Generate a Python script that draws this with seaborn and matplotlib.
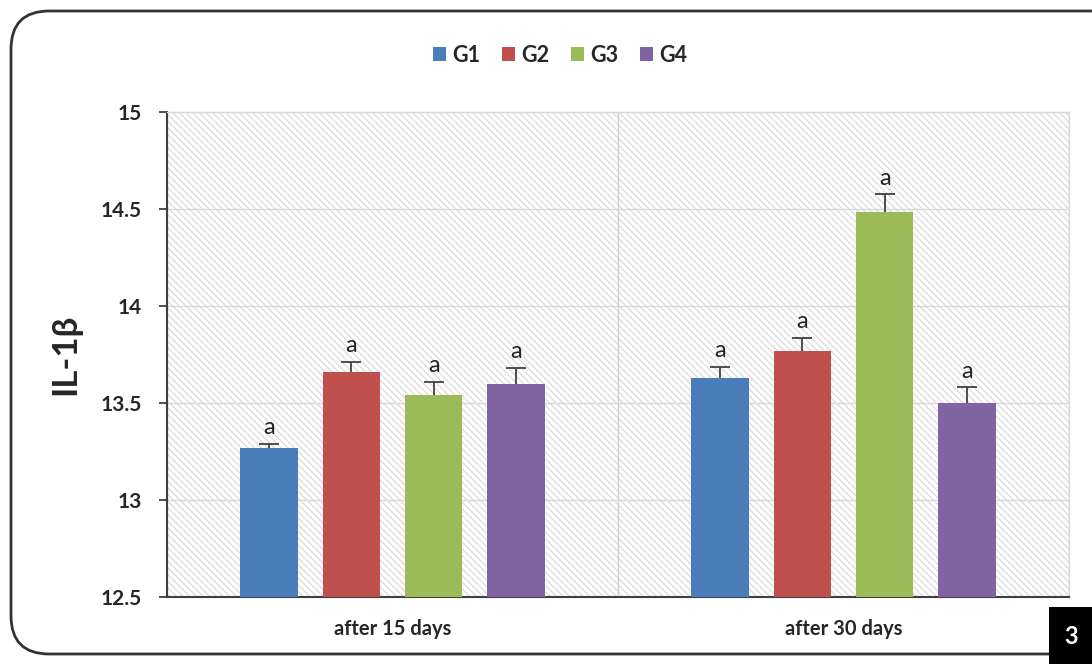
import matplotlib
matplotlib.use("Agg")
import matplotlib.pyplot as plt
import seaborn as sns
import pandas as pd
import numpy as np
from matplotlib.patches import FancyBboxPatch, Rectangle
from matplotlib.ticker import FixedLocator

periods = ["after 15 days", "after 30 days"]
groups = ["G1", "G2", "G3", "G4"]
g1_vals = [13.27, 13.63]
g2_vals = [13.66, 13.77]
g3_vals = [13.54, 14.485]
g4_vals = [13.60, 13.50]
g1_err = [0.02, 0.055]
g2_err = [0.05, 0.065]
g3_err = [0.07, 0.09]
g4_err = [0.08, 0.08]
letters = ["a", "a", "a", "a"]
ytick_labels = ["12.5", "13", "13.5", "14", "14.5", "15"]
colors = ["#4A7EBB", "#C0504D", "#9BBB59", "#8064A2"]

vals = [g1_vals, g2_vals, g3_vals, g4_vals]
errs = [g1_err, g2_err, g3_err, g4_err]
rows = []
for g, v, e, l in zip(groups, vals, errs, letters):
    for p, vv, ee in zip(periods, v, e):
        rows.append({"period": p, "group": g, "value": vv, "err": ee, "letter": l})
df = pd.DataFrame(rows)

sns.set_style("white")
plt.rcParams["font.family"] = ["Lato", "DejaVu Sans"]
plt.rcParams["hatch.linewidth"] = 0.8
plt.rcParams["hatch.color"] = "#d6d6d6"

fig = plt.figure(figsize=(10.92, 6.64), dpi=100)
W, H = 1092, 664
ax = fig.add_axes([167 / W, 1 - 597 / H, (1069 - 167) / W, (597 - 112) / H])

# hatched plot background
ax.add_patch(Rectangle((0, 0), 1, 1, transform=ax.transAxes, facecolor="white",
                       edgecolor="#d6d6d6", hatch="\\" * 5, linewidth=0, zorder=0))

sns.barplot(data=df, x="period", y="value", hue="group", palette=colors,
            width=0.73, gap=0.3, errorbar=None, ax=ax, zorder=3, saturation=1,
            edgecolor="none", legend=True)

# error bars (upper only) and letters from bar patches
for cont, g in zip(ax.containers, groups):
    sub = df[df["group"] == g]
    for bar, (_, r) in zip(cont, sub.iterrows()):
        cx = bar.get_x() + bar.get_width() / 2
        top = bar.get_height()
        eb = ax.errorbar(cx, top, yerr=[[0], [r["err"]]], fmt="none", ecolor="#404040",
                         elinewidth=1.3, capsize=7, capthick=1.3, zorder=2.9)
        caps = eb[1]
        low = min(caps, key=lambda c: c.get_ydata()[0])
        low.set_visible(False)
        ax.text(cx, top + r["err"] + 0.03, r["letter"], ha="center", va="bottom",
                fontsize=17, color="#222222", zorder=5)

ax.set_ylim(12.5, 15)
ax.set_xlim(-0.5, 1.5)
ax.set_yticks(np.arange(12.5, 15.01, 0.5))
ax.set_yticklabels(ytick_labels, fontweight="bold", fontsize=15)
ax.set_xticks([0, 1])
ax.set_xticklabels(periods, fontweight="bold", fontsize=14.5)
ax.grid(axis="y", color="#d9d9d9", linewidth=1.0, zorder=1)
ax.set_axisbelow(True)
ax.xaxis.set_minor_locator(FixedLocator([-0.5, 0.5, 1.5]))
ax.grid(axis="x", which="minor", color="#d0d0d0", linewidth=1.0)
ax.tick_params(axis="x", which="major", length=0, pad=16)
ax.tick_params(axis="x", which="minor", length=6, direction="in", width=1.5, color="#303030")
ax.tick_params(axis="y", which="major", length=6, direction="out", width=1.3,
               color="#404040", pad=12, left=True)
for s in ["left", "bottom"]:
    ax.spines[s].set_color("#404040")
    ax.spines[s].set_linewidth(1.5)
for s in ["top", "right"]:
    ax.spines[s].set_color("#d9d9d9")
    ax.spines[s].set_linewidth(1.0)
ax.set_xlabel("")
ax.set_ylabel("IL-1β", fontsize=25, fontweight="bold", labelpad=14)

leg = ax.legend(loc="center", bbox_to_anchor=(560 / W, 1 - 55 / H),
                bbox_transform=fig.transFigure, ncol=4, frameon=False,
                handlelength=0.6, handleheight=0.6, handletextpad=0.3,
                columnspacing=1.0, prop={"weight": "bold", "size": 15.5})

# rounded outer frame
frame = FancyBboxPatch((11 / W, 10 / H), (1130 - 11) / W, (653 - 10) / H,
                       boxstyle="round,pad=0,rounding_size=0.035",
                       transform=fig.transFigure, facecolor="none",
                       edgecolor="#333333", linewidth=2.0, zorder=-1,
                       mutation_aspect=W / H)
fig.patches.append(frame)

# panel number
fig.patches.append(Rectangle((1049 / W, 0), (W - 1049) / W, (664 - 607) / H,
                             transform=fig.transFigure, facecolor="black",
                             edgecolor="none"))
fig.text(1071 / W, 1 - 636 / H, "3", color="white", fontsize=17, fontweight="bold",
         ha="center", va="center")

fig.savefig("out.png", dpi=100)
